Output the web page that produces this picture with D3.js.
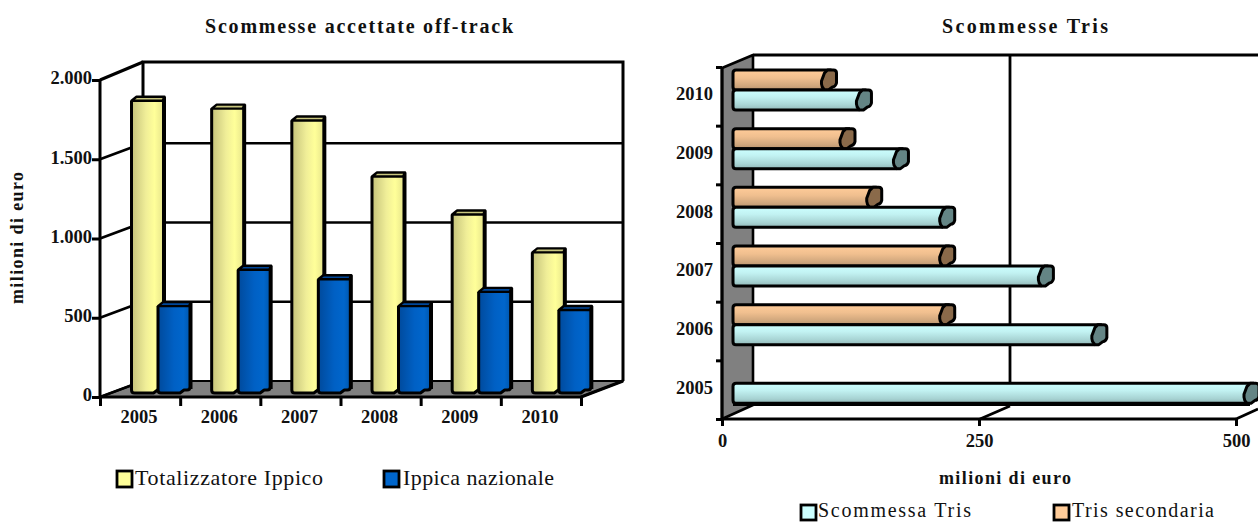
<!DOCTYPE html>
<html><head><meta charset="utf-8">
<script src="https://cdn.jsdelivr.net/npm/d3@7"></script>
<style>
html,body{margin:0;padding:0;background:#fff;overflow:hidden}
text{font-family:"Liberation Serif",serif;fill:#111}
.b{font-weight:bold}
.axis path,.axis line{stroke:#000;stroke-width:3}
.axis text{font-family:"Liberation Serif",serif;font-weight:bold;font-size:18.5px;fill:#111}
</style></head><body>
<svg id="c" width="1258" height="522"></svg>
<script>
const leftYears=["2005","2006","2007","2008","2009","2010"];
const totalizzatore=[1850,1800,1725,1370,1130,890];
const ippicaNazionale=[550,780,720,550,640,525];
const leftTicks=[0,500,1000,1500,2000];
const rightYears=["2005","2006","2007","2008","2009","2010"];
const scommessaTris=[500,352,300,204,159,123];
const trisSecondaria=[0,204,204,133,107,89];
const rightTicks=[0,250,500];

const svg=d3.select("#c");
const defs=svg.append("defs");
function grad(id,stops,vertical){
  const g=defs.append("linearGradient").attr("id",id).attr("x1",0).attr("y1",0)
    .attr("x2",vertical?0:1).attr("y2",vertical?1:0);
  stops.forEach(s=>g.append("stop").attr("offset",s[0]).attr("stop-color",s[1]));
}
grad("gy",[[0,"#c4c27a"],[.45,"#f0ee98"],[.72,"#ffff99"],[1,"#e6e48c"]]);
grad("gb",[[0,"#004a9c"],[.5,"#0060c4"],[.8,"#0066cc"],[1,"#0056ac"]]);
grad("gc",[[0,"#ccffff"],[.35,"#c2f2f2"],[.75,"#a8d4d4"],[1,"#92b8b8"]],true);
grad("go",[[0,"#ffcc99"],[.4,"#f0bf8f"],[.8,"#cfa67c"],[1,"#b8946e"]],true);
const ink="#000", lw=3;
const line=(g,x1,y1,x2,y2,w=lw)=>g.append("line").attr("x1",x1).attr("y1",y1).attr("x2",x2).attr("y2",y2).attr("stroke",ink).attr("stroke-width",w);
const poly=(g,pts,fill,w=lw)=>g.append("polygon").attr("points",pts.map(p=>p.join(",")).join(" ")).attr("fill",fill).attr("stroke",ink).attr("stroke-width",w).attr("stroke-linejoin","round");

/* ---------- left chart ---------- */
{
  const g=svg.append("g");
  const y=d3.scaleLinear().domain([0,2000]).range([397,80]);
  const xi=d3.scaleLinear().domain([0,6]).range([100,581]);
  const xb=d3.scaleBand().domain(leftYears).range([100,581]);
  const dx=43, dy=-16;
  g.append("path").attr("d",`M${100+dx},${y(0)+dy}V${y(2000)-18}H623V${y(0)+dy}`).attr("fill","#fff").attr("stroke",ink).attr("stroke-width",lw);
  poly(g,[[100,397],[143,381],[623,381],[581,397]],"#808080",2);
  leftTicks.forEach(t=>{
    const yy=y(t);
    if(t>0&&t<2000) line(g,143,yy+dy,623,yy+dy,2.6);
    if(t<2000) line(g,100,yy,143,yy+dy,2.6);
  });
  line(g,100,y(2000),143,62);
  line(g,581,397,623,381);
  const base=393, sc=79/500, w=31;
  const bar=(vals,off,fill,cap)=>leftYears.forEach((yr,i)=>{
    const x=xb(yr)+off, top=base-vals[i]*sc;
    g.append("path").attr("d",`M${x},${top}V${base-3}q0,3 3,3H${x+w-9}l4,-3H${x+w-2}q3,0 3,-3V${top-3}`)
      .attr("fill",fill).attr("stroke",ink).attr("stroke-width",lw).attr("stroke-linejoin","round");
    poly(g,[[x,top],[x+5,top-4],[x+w+2,top-4],[x+w,top]],cap,2.4);
    g.append("path").attr("d",`M${x+w+2},${top-4}V${base-4}`).attr("stroke",ink).attr("stroke-width",lw);
  });
  bar(totalizzatore,31.5,"url(#gy)","#c8c67e");
  bar(ippicaNazionale,58,"url(#gb)","#00479a");
  const ay=d3.axisLeft(y).tickValues(leftTicks).tickSize(8).tickPadding(0)
    .tickFormat(d=>d===0?"0":d3.format(",")(d).replace(",","."));
  const ayg=g.append("g").attr("class","axis").attr("transform","translate(100,0)").call(ay).call(s=>s.select(".domain").attr("d","M0,80V397"));
  ayg.selectAll("text").attr("y",-2);
  const ax=d3.axisBottom(xi).tickValues(d3.range(0,7)).tickSize(9).tickFormat("");
  g.append("g").attr("class","axis").attr("transform","translate(0,397)").call(ax).call(s=>s.select(".domain").attr("d","M100,0H581"));
  const al=d3.axisBottom(xb).tickSize(0).tickPadding(13);
  g.append("g").attr("class","axis").attr("transform","translate(-1,397)").call(al).call(s=>s.select(".domain").remove());
  g.append("text").attr("class","b").attr("x",359).attr("y",33).attr("text-anchor","middle").attr("font-size",20).attr("textLength",308).text("Scommesse accettate off-track");
  g.append("text").attr("class","b").attr("transform","translate(23,238) rotate(-90)").attr("text-anchor","middle").attr("font-size",18).attr("textLength",132).text("milioni di euro");
  g.append("rect").attr("x",117).attr("y",471).attr("width",15).attr("height",16).attr("fill","#ffff99").attr("stroke",ink).attr("stroke-width",2.8);
  g.append("text").attr("x",135).attr("y",485).attr("font-size",22).attr("textLength",188).text("Totalizzatore Ippico");
  g.append("rect").attr("x",384).attr("y",471).attr("width",15).attr("height",16).attr("fill","#0066cc").attr("stroke",ink).attr("stroke-width",2.8);
  g.append("text").attr("x",403).attr("y",485).attr("font-size",22).attr("textLength",151).text("Ippica nazionale");
}

/* ---------- right chart ---------- */
{
  const g=svg.append("g");
  const x=d3.scaleLinear().domain([0,500]).range([722,1236]);
  const yb=d3.scaleBand().domain(rightYears).range([419,67]);
  g.append("path").attr("d",`M753,55H1258`).attr("stroke",ink).attr("stroke-width",lw);
  line(g,1010,55,1010,406,2.8);
  line(g,980,419,1010,406,2.8);
  line(g,1236,419,1258,409,2.8);
  poly(g,[[722,68],[753,55],[753,405],[722,419]],"#808080",2.6);
  const ax0=11;
  const bar=(vals,off,fill,cap)=>rightYears.forEach((yr,i)=>{
    if(!vals[i]) return;
    const top=yb(yr)+off, h=20, x0=722+ax0, x1=x0+(x(vals[i])-x(0));
    g.append("path").attr("d",`M${x1},${top+h}H${x0+3}q-3,0 -3,-3V${top+3}q0,-3 3,-3H${x1+7}`)
      .attr("fill",fill).attr("stroke",ink).attr("stroke-width",lw).attr("stroke-linejoin","round");
    g.append("path").attr("d",`M${x1},${top+3}l3,-3h6q3,0 3,3v${h-10}q-1,4 -4,4l-4,3h-4q-3,-3 -3,-6v-3z`)
      .attr("fill",cap).attr("stroke",ink).attr("stroke-width",lw).attr("stroke-linejoin","round");
  });
  bar(trisSecondaria,3,"url(#go)","#8a6a4a");
  bar(scommessaTris,23,"url(#gc)","#648585");
  line(g,733,404,1250,404,4);
  const ay=d3.axisLeft(d3.scaleLinear().domain([0,6]).range([419,67])).tickValues(d3.range(0,7)).tickSize(6).tickFormat("");
  g.append("g").attr("class","axis").attr("transform","translate(722,0)").call(ay).call(s=>s.select(".domain").attr("d","M0,68V419"));
  const ayl=d3.axisLeft(yb).tickSize(0).tickPadding(9);
  g.append("g").attr("class","axis").attr("transform","translate(722,-2)").call(ayl).call(s=>s.select(".domain").remove());
  const ax=d3.axisBottom(x).tickValues(rightTicks).tickSize(7).tickPadding(8).tickFormat(d3.format("d"));
  g.append("g").attr("class","axis").attr("transform","translate(0,419)").call(ax).call(s=>s.select(".domain").attr("d","M722,0H1236"));
  g.append("text").attr("class","b").attr("x",1025).attr("y",33).attr("text-anchor","middle").attr("font-size",20).attr("textLength",166).text("Scommesse Tris");
  g.append("text").attr("class","b").attr("x",1005).attr("y",484).attr("text-anchor","middle").attr("font-size",18).attr("textLength",132).text("milioni di euro");
  g.append("rect").attr("x",801).attr("y",505).attr("width",15).attr("height",15).attr("fill","#ccffff").attr("stroke",ink).attr("stroke-width",2.8);
  g.append("text").attr("x",818).attr("y",517).attr("font-size",20).attr("textLength",153).text("Scommessa Tris");
  g.append("rect").attr("x",1054).attr("y",505).attr("width",15).attr("height",15).attr("fill","#ffcc99").attr("stroke",ink).attr("stroke-width",2.8);
  g.append("text").attr("x",1072).attr("y",517).attr("font-size",20).attr("textLength",142).text("Tris secondaria");
}
</script></body></html>
